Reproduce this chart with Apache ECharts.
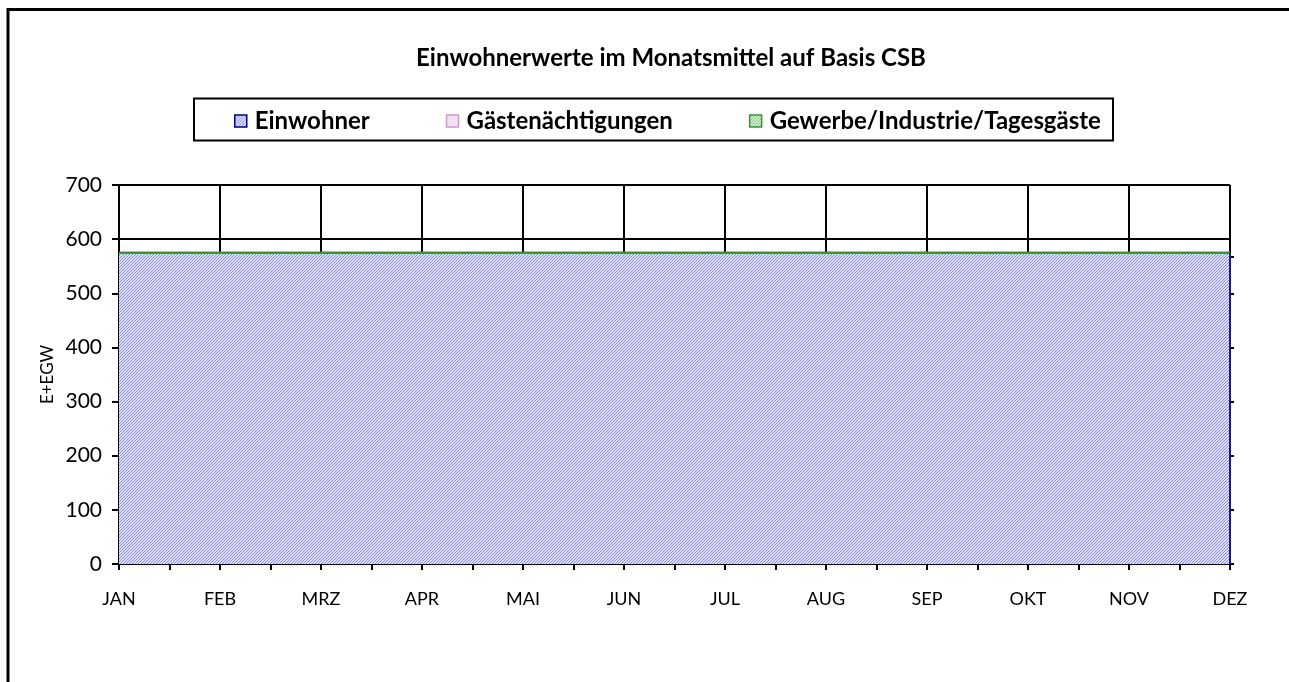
<!DOCTYPE html>
<html>
<head>
<meta charset="utf-8">
<title>Einwohnerwerte im Monatsmittel auf Basis CSB</title>
<script src="https://cdn.jsdelivr.net/npm/echarts@6/dist/echarts.min.js"></script>
<style>
  html, body { margin: 0; padding: 0; background: #ffffff; }
  #chart { width: 1289px; height: 682px; }
</style>
</head>
<body>
<div id="chart"></div>
<script>
// Monthly categories and stacked population-equivalent values (E+EGW)
const months = ['JAN', 'FEB', 'MRZ', 'APR', 'MAI', 'JUN', 'JUL', 'AUG', 'SEP', 'OKT', 'NOV', 'DEZ'];
const einwohner = [575, 575, 575, 575, 575, 575, 575, 575, 575, 575, 575, 575];
const gaestenaechtigungen = [0, 0, 0, 0, 0, 0, 0, 0, 0, 0, 0, 0];
const gewerbe = [0, 0, 0, 0, 0, 0, 0, 0, 0, 0, 0, 0];
const yTicks = [0, 100, 200, 300, 400, 500, 600, 700];
const secondaryTicks = [0, 100, 200, 300, 400, 500, 568];

const FONT = 'Lato, "Liberation Sans", sans-serif';

// Small hatch tiles used as fills
function hatch(bg, fg, size) {
  const c = document.createElement('canvas');
  c.width = size; c.height = size;
  const ctx = c.getContext('2d');
  ctx.fillStyle = bg;
  ctx.fillRect(0, 0, size, size);
  ctx.fillStyle = fg;
  for (let i = 0; i < size; i++) ctx.fillRect(i, size - 1 - i, 1, 1);
  return { image: c, repeat: 'repeat' };
}
function dots(bg, fg) {
  const c = document.createElement('canvas');
  c.width = 2; c.height = 2;
  const ctx = c.getContext('2d');
  ctx.fillStyle = bg; ctx.fillRect(0, 0, 2, 2);
  ctx.fillStyle = fg; ctx.fillRect(0, 0, 1, 1); ctx.fillRect(1, 1, 1, 1);
  return { image: c, repeat: 'repeat' };
}

const blueFill = hatch('#e2e2fc', '#8585ee', 3);
const pinkFill = dots('#ffffff', '#e6c3e6');
const greenFill = hatch('#dff0df', '#6cbf6c', 3);

const chart = echarts.init(document.getElementById('chart'), null, { renderer: 'canvas' });

chart.setOption({
  backgroundColor: '#ffffff',
  animation: false,
  textStyle: { fontFamily: FONT },
  graphic: [
    // outer frame
    { type: 'rect', silent: true, z: 100,
      shape: { x: 8, y: 9.5, width: 1400, height: 800 },
      style: { fill: 'none', stroke: '#000000', lineWidth: 3 } },
    // legend box
    { type: 'rect', silent: true, z: 100,
      shape: { x: 194, y: 98.5, width: 919, height: 42 },
      style: { fill: 'none', stroke: '#000000', lineWidth: 2 } },
    // title
    { type: 'text', silent: true, z: 100, x: 671, y: 58,
      style: { text: 'Einwohnerwerte im Monatsmittel auf Basis CSB',
        fontFamily: FONT, fontWeight: 'bold', fontSize: 24, fill: '#000000',
        align: 'center', verticalAlign: 'middle' } }
  ],
  legend: {
    left: 229, top: 104,
    itemWidth: 12, itemHeight: 12, itemGap: 76,
    icon: 'rect',
    selectedMode: false,
    textStyle: { fontFamily: FONT, fontWeight: 'bold', fontSize: 24, color: '#000000', padding: [0, 0, 0, 3] },
    data: [
      { name: 'Einwohner', itemStyle: { color: blueFill, borderColor: '#000080', borderWidth: 1.5 } },
      { name: 'Gästenächtigungen', itemStyle: { color: pinkFill, borderColor: '#cc99cc', borderWidth: 1.5 } },
      { name: 'Gewerbe/Industrie/Tagesgäste', itemStyle: { color: greenFill, borderColor: '#339933', borderWidth: 1.5 } }
    ]
  },
  grid: { left: 119, right: 59, top: 185, bottom: 118, containLabel: false },
  xAxis: [
    {
      type: 'category', data: months, boundaryGap: false,
      axisLine: { show: true, lineStyle: { color: '#000000', width: 2 } },
      axisTick: { show: true, interval: 0, length: 6, lineStyle: { color: '#000000', width: 2 } },
      splitLine: { show: true, interval: 0, lineStyle: { color: '#000000', width: 2 } },
      axisLabel: { interval: 0, fontFamily: FONT, fontSize: 18, color: '#000000', margin: 26 }
    },
    {
      // half-month tick marks along the bottom
      type: 'value', position: 'bottom', min: 0, max: (months.length - 1) * 2, interval: 1,
      axisLine: { show: false },
      axisTick: { show: true, length: 6, lineStyle: { color: '#000000', width: 2 } },
      axisLabel: { show: false },
      splitLine: { show: false }
    }
  ],
  yAxis: [
    {
      type: 'value', min: yTicks[0], max: yTicks[yTicks.length - 1], interval: 100,
      name: 'E+EGW', nameLocation: 'middle', nameGap: 63, nameRotate: 90, nameMoveOverlap: false,
      nameTextStyle: { fontFamily: FONT, fontSize: 17, color: '#000000' },
      axisLine: { show: true, lineStyle: { color: '#000000', width: 2 } },
      axisTick: { show: true, length: 7, lineStyle: { color: '#000000', width: 2 } },
      splitLine: { show: true, lineStyle: { color: '#000000', width: 2 } },
      axisLabel: { fontFamily: FONT, fontSize: 21, color: '#000000', margin: 17 }
    },
    {
      type: 'value', position: 'right', min: 0, max: 700, interval: 100,
      axisLine: { show: false },
      axisTick: { show: true, inside: false, length: 4, customValues: secondaryTicks,
        lineStyle: { color: '#000000', width: 2 } },
      axisLabel: { show: false },
      splitLine: { show: false }
    }
  ],
  series: [
    {
      name: 'Einwohner', type: 'line', stack: 'total', symbol: 'none',
      data: einwohner,
      lineStyle: { color: '#000080', width: 1 },
      itemStyle: { color: blueFill, borderColor: '#000080' },
      areaStyle: { color: blueFill, opacity: 1 },
      markLine: {
        silent: true, symbol: 'none', label: { show: false },
        lineStyle: { color: '#1a1a8c', width: 2, type: 'solid' },
        data: [[{ coord: [months[months.length - 1], 0] }, { coord: [months[months.length - 1], einwohner[einwohner.length - 1]] }]]
      }
    },
    {
      name: 'Gästenächtigungen', type: 'line', stack: 'total', symbol: 'none',
      data: gaestenaechtigungen,
      lineStyle: { color: '#cc99cc', width: 1 },
      itemStyle: { color: pinkFill, borderColor: '#cc99cc' },
      areaStyle: { color: pinkFill, opacity: 1 }
    },
    {
      name: 'Gewerbe/Industrie/Tagesgäste', type: 'line', stack: 'total', symbol: 'none',
      data: gewerbe,
      lineStyle: { color: '#339933', width: 2.5 },
      itemStyle: { color: greenFill, borderColor: '#339933' },
      areaStyle: { color: greenFill, opacity: 1 }
    }
  ]
});
</script>
</body>
</html>
